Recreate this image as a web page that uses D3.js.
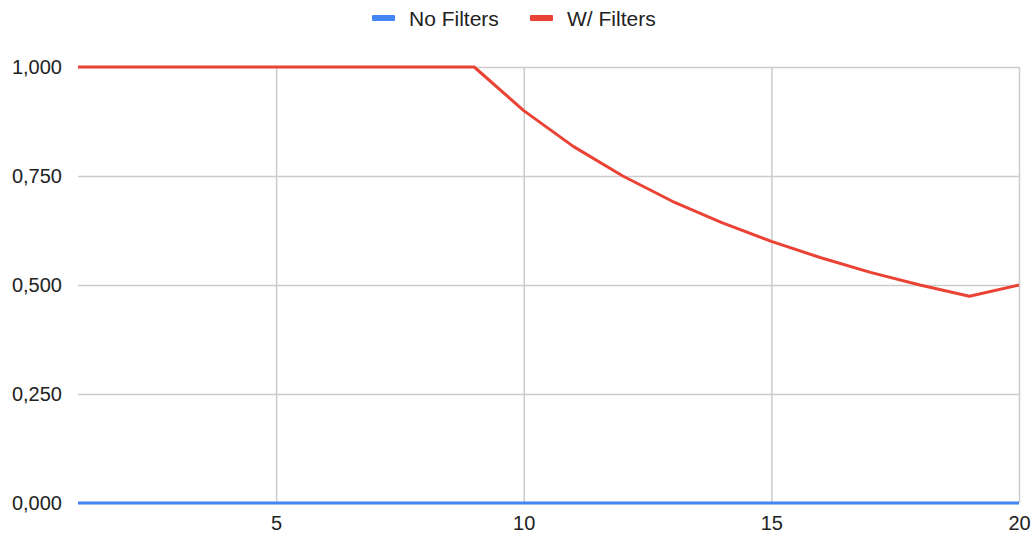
<!DOCTYPE html>
<html>
<head>
<meta charset="utf-8">
<script src="https://cdn.jsdelivr.net/npm/d3@7"></script>
<style>
  html, body { margin: 0; padding: 0; background: #fff; }
  svg { display: block; font-family: "Liberation Sans", Arial, sans-serif; }
</style>
</head>
<body>
<svg id="chart" width="1036" height="541"></svg>
<script>
// Step numbers along the x axis
const steps = [1, 2, 3, 4, 5, 6, 7, 8, 9, 10, 11, 12, 13, 14, 15, 16, 17, 18, 19, 20];
// Series values per step
const noFilters = [0, 0, 0, 0, 0, 0, 0, 0, 0, 0, 0, 0, 0, 0, 0, 0, 0, 0, 0, 0];
const withFilters = [1, 1, 1, 1, 1, 1, 1, 1, 1, 0.9, 0.818, 0.75, 0.692, 0.643, 0.6, 0.5625, 0.529, 0.5, 0.474, 0.5];
const seriesNames = ["No Filters", "W/ Filters"];
const seriesColors = ["#4285f4", "#ea4335"];
const xTicks = [5, 10, 15, 20];
const yTicks = [0, 0.25, 0.5, 0.75, 1];

const svg = d3.select("#chart");
const margin = { left: 78, right: 17, top: 67, bottom: 38 };
const W = 1036, H = 541;

const x = d3.scaleLinear().domain([1, 20]).range([margin.left, W - margin.right]);
const y = d3.scaleLinear().domain([0, 1]).range([H - margin.bottom, margin.top]);

const fmt = v => d3.format(".3f")(v).replace(".", ",");

// Horizontal grid and y labels
const yAxis = svg.append("g")
  .attr("transform", `translate(${margin.left},0)`)
  .call(d3.axisLeft(y).tickValues(yTicks).tickFormat(fmt)
    .tickSize(-(W - margin.left - margin.right)).tickPadding(16));
yAxis.select(".domain").remove();
yAxis.selectAll(".tick line").attr("stroke", "#cccccc").attr("stroke-width", 1.5);
yAxis.selectAll(".tick text").attr("fill", "#222").attr("font-size", 20);

// Vertical grid and x labels
const xAxis = svg.append("g")
  .attr("transform", `translate(0,${H - margin.bottom})`)
  .call(d3.axisBottom(x).tickValues(xTicks).tickFormat(d3.format("d"))
    .tickSize(-(H - margin.top - margin.bottom)).tickPadding(13));
xAxis.select(".domain").remove();
xAxis.selectAll(".tick line").attr("stroke", "#cccccc").attr("stroke-width", 1.5);
xAxis.selectAll(".tick text").attr("fill", "#222").attr("font-size", 20);

// Series lines
const line = d3.line().x((d, i) => x(steps[i])).y(d => y(d));
[noFilters, withFilters].forEach((vals, k) => {
  svg.append("path")
    .datum(vals)
    .attr("fill", "none")
    .attr("stroke", seriesColors[k])
    .attr("stroke-width", 3)
    .attr("stroke-linejoin", "round")
    .attr("d", line);
});

// Legend
const legendX = [372, 530];
seriesNames.forEach((name, k) => {
  const g = svg.append("g").attr("transform", `translate(${legendX[k]},18)`);
  g.append("rect").attr("x", 0).attr("y", -3).attr("width", 23).attr("height", 6)
    .attr("rx", 1).attr("fill", seriesColors[k]);
  g.append("text").attr("x", 37).attr("y", 8).attr("font-size", 21)
    .attr("fill", "#222").text(name);
});
</script>
</body>
</html>
